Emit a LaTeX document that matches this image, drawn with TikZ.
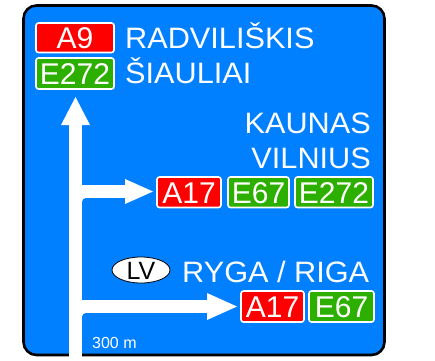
\documentclass[tikz,border=0pt]{standalone}
\usepackage{fontspec}
\setmainfont{Liberation Sans}
\newfontfamily\signfont[FakeStretch=1.04]{Liberation Sans}
\usetikzlibrary{shapes.geometric}
\definecolor{signblue}{RGB}{0,128,255}
\definecolor{shieldred}{RGB}{255,0,0}
\definecolor{shieldgreen}{RGB}{45,175,0}
\tikzset{
  place/.style={text=white, inner sep=0pt, font=\signfont\fontsize{29.5}{29.5}\selectfont},
  shield/.style={draw=white, line width=1.6pt, rounded corners=2.5pt},
  shieldtxt/.style={text=white, inner sep=0pt, anchor=base, font=\fontsize{30}{30}\selectfont},
}
\begin{document}
\begin{tikzpicture}[x=1pt,y=-1pt]
\useasboundingbox (0,0) rectangle (435,360);
% sign panel
\filldraw[fill=signblue, draw=black, line width=2.6pt, rounded corners=13pt] (23.5,5.5) rectangle (384.5,355);
% vertical arrow
\fill[white] (69,122) rectangle (82,360);
\fill[white] (61,125) -- (75.5,97) -- (90,125) -- cycle;
% branch 1
\fill[white] (80,185) rectangle (126,198);
\fill[white] (125,179) -- (153,191.5) -- (125,204) -- cycle;
\fill[white] (82,198) rectangle (86,202);
\fill[signblue] (86,202) circle (4);
% branch 2
\fill[white] (80,300) rectangle (208,313);
\fill[white] (207,293) -- (237,306.5) -- (207,320) -- cycle;
\fill[white] (82,313) rectangle (86,317);
\fill[signblue] (86,317) circle (4);
% shields
\filldraw[shield, fill=shieldred] (36,23) rectangle (114,52.5);
\node[shieldtxt] (a9) at (75,48.5) {A9};
\filldraw[shield, fill=shieldgreen] (36,58) rectangle (114,89);
\node[shieldtxt] (e272a) at (75,84.3) {E272};
\filldraw[shield, fill=shieldred] (157,177) rectangle (221,207.5);
\node[shieldtxt] (a17a) at (189,203) {A17};
\filldraw[shield, fill=shieldgreen] (228,177) rectangle (289,207.5);
\node[shieldtxt] (e67a) at (258.5,203) {E67};
\filldraw[shield, fill=shieldgreen] (295,177) rectangle (373,207.5);
\node[shieldtxt] (e272b) at (334,203) {E272};
\filldraw[shield, fill=shieldred] (241,291) rectangle (304,322);
\node[shieldtxt] (a17b) at (272.5,317.3) {A17};
\filldraw[shield, fill=shieldgreen] (309,291) rectangle (374,322);
\node[shieldtxt] (e67b) at (341.5,317.3) {E67};
% place names
\node[place, anchor=base west] (radv) at (125,48) {RADVILIŠKIS};
\node[place, anchor=base west] (siau) at (125,83) {ŠIAULIAI};
\node[place, anchor=base east] (kaun) at (371,133) {KAUNAS};
\node[place, anchor=base east] (viln) at (371,168) {VILNIUS};
\node[place, anchor=base west] (ryga) at (182,282) {RYGA / RIGA};
% LV oval
\node[ellipse, draw=black, fill=white, line width=0.8pt, minimum width=58pt, minimum height=26pt, inner sep=0pt] (lv) at (141,270) {};
\node[inner sep=0pt, anchor=base, font=\fontsize{25}{25}\selectfont] (lvt) at (141,279.5) {LV};
% distance
\node[text=white, inner sep=0pt, anchor=base west, font=\fontsize{16}{16}\selectfont] (dist) at (92,348) {300 m};
\end{tikzpicture}
\end{document}
